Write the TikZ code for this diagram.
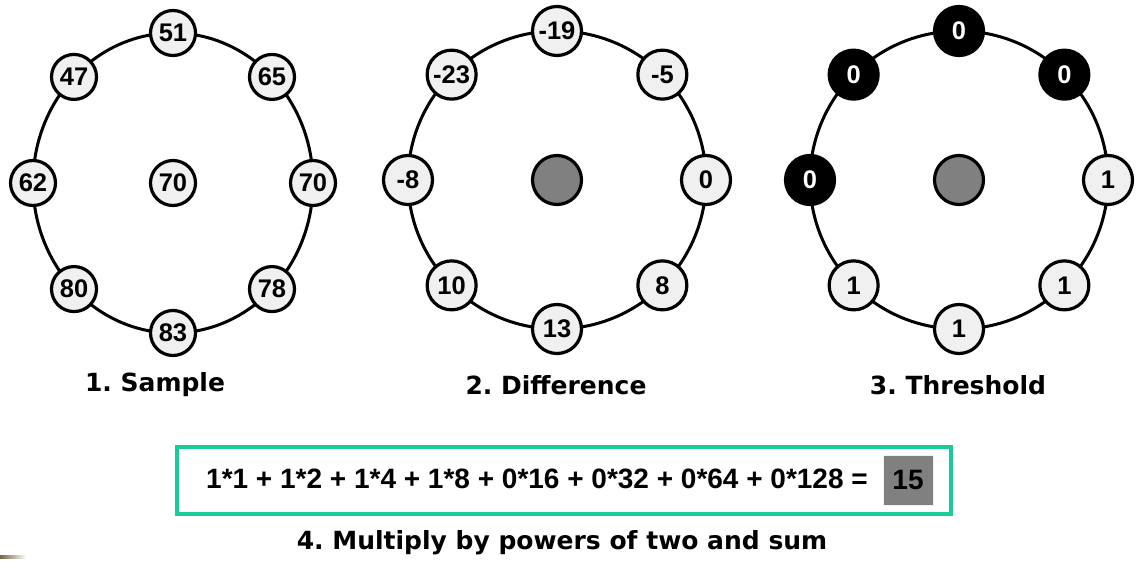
\documentclass[tikz,border=0pt]{standalone}
\usepackage{fontspec}
\usetikzlibrary{calc}
\newfontfamily\numfont{Liberation Sans}
\newfontfamily\labfont{DejaVu Sans}
\definecolor{nodefill}{RGB}{240,240,240}
\definecolor{midgray}{RGB}{128,128,128}
\definecolor{tealline}{RGB}{24,204,152}
\definecolor{smudge}{RGB}{120,100,60}
\tikzset{
  ring/.style={line width=3pt, draw=black},
  px/.style={circle, draw=black, line width=3.2pt, fill=nodefill, inner sep=0pt,
             font=\numfont\bfseries\fontsize{25.5}{27}\selectfont},
  pxa/.style={px, minimum size=45pt},
  pxb/.style={px, minimum size=49pt},
  pxdark/.style={pxb, fill=black, text=white},
  centergray/.style={pxb, fill=midgray},
  caption/.style={font=\labfont\bfseries\fontsize{25}{28}\selectfont\frenchspacing, inner sep=0pt},
  eqtext/.style={font=\numfont\bfseries\fontsize{28}{32}\selectfont, inner sep=0pt},
}
\begin{document}
\frenchspacing
\begin{tikzpicture}[x=1pt, y=-1pt]
\useasboundingbox (0,0) rectangle (1138,561);

% ---------- 1. Sample ----------
\node[pxa] (c1) at (173,183) {70};
\draw[ring] (c1.center) ellipse [x radius=140, y radius=150];
\foreach \ang/\val/\nm in {270/51/t, 315/65/tr, 0/70/r, 45/78/br, 90/83/b, 135/80/bl, 180/62/l, 225/47/tl}
  \node[pxa] (s\nm) at ($(c1.center)+(\ang:140 and 150)$) {\val};
\node[caption] (lab1) at (155,385) {1. Sample};

% ---------- 2. Difference ----------
\node[centergray] (c2) at (557,180) {};
\draw[ring] (c2.center) circle [radius=149];
\foreach \ang/\val/\nm in {270/-19/t, 315/-5/tr, 0/0/r, 45/8/br, 90/13/b, 135/10/bl, 180/-8/l, 225/-23/tl}
  \node[pxb] (d\nm) at ($(c2.center)+(\ang:149)$) {\val};
\node[caption] (lab2) at (556,385) {2. Difference};

% ---------- 3. Threshold ----------
\node[centergray] (c3) at (959,180) {};
\draw[ring] (c3.center) circle [radius=149];
\foreach \ang/\nm in {270/t, 315/tr, 180/l, 225/tl}
  \node[pxdark] (h\nm) at ($(c3.center)+(\ang:149)$) {0};
\foreach \ang/\nm in {0/r, 45/br, 90/b, 135/bl}
  \node[pxb] (h\nm) at ($(c3.center)+(\ang:149)$) {1};
\node[caption] (lab3) at (958,385) {3. Threshold};

% ---------- 4. Sum ----------
\node[draw=tealline, line width=4pt, minimum width=774pt, minimum height=67pt, inner sep=0pt] (box) at (564,480) {};
\node[eqtext, anchor=base west] (eq) at (206,488) {1*1 + 1*2 + 1*4 + 1*8 + 0*16 + 0*32 + 0*64 + 0*128 =};
\node[eqtext, fill=midgray, draw=nodefill, line width=0.8pt, minimum width=50pt, minimum height=50pt] (res) at (908,480) {15};
\node[caption] (lab4) at (562,543) {4. Multiply by powers of two and sum};

% small smudge at the lower left edge
\shade[left color=smudge, right color=white] (0,555.5) rectangle (26,558);
\end{tikzpicture}
\end{document}
